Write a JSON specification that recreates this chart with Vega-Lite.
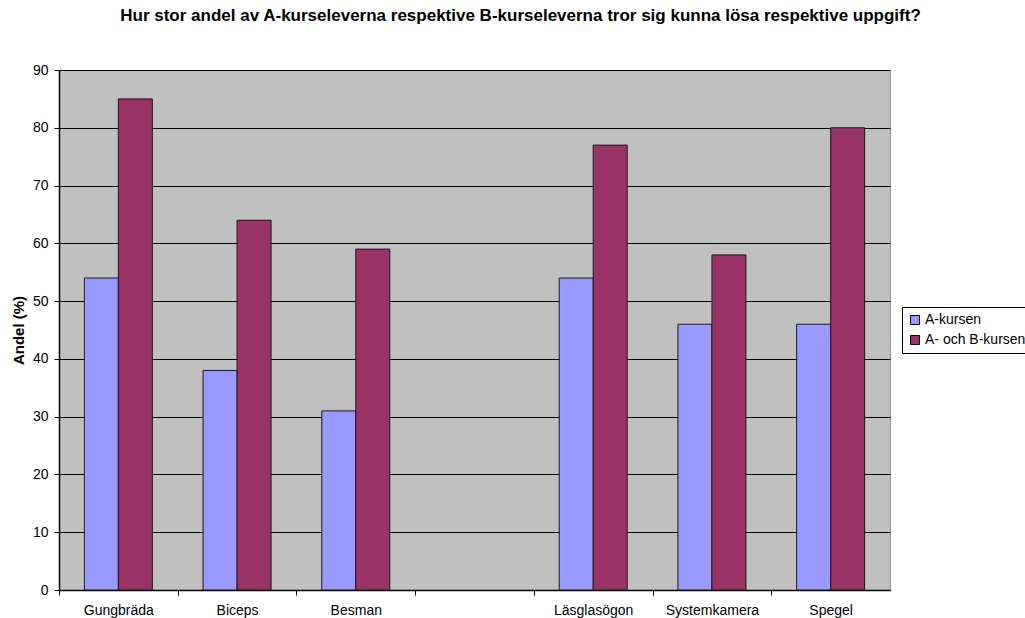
{
  "$schema": "https://vega.github.io/schema/vega-lite/v6.json",
  "width": 831,
  "height": 520,
  "autosize": {"type": "none"},
  "padding": {"left": 59, "top": 70, "right": 135, "bottom": 28},
  "background": "white",
  "config": {
    "font": "Liberation Sans",
    "view": {"fill": "#C0C0C0", "stroke": "#9a9a9a", "strokeWidth": 1}
  },
  "title": {
    "text": "Hur stor andel av A-kurseleverna respektive B-kurseleverna tror sig kunna lösa respektive uppgift?",
    "font": "Liberation Sans",
    "fontSize": 17,
    "fontWeight": "bold",
    "color": "#000000",
    "anchor": "middle",
    "dx": 46,
    "offset": 38
  },
  "data": {
    "values": [
      {"uppgift": "Gungbräda", "kurs": "A-kursen", "andel": 54},
      {"uppgift": "Gungbräda", "kurs": "A- och B-kursen", "andel": 85},
      {"uppgift": "Biceps", "kurs": "A-kursen", "andel": 38},
      {"uppgift": "Biceps", "kurs": "A- och B-kursen", "andel": 64},
      {"uppgift": "Besman", "kurs": "A-kursen", "andel": 31},
      {"uppgift": "Besman", "kurs": "A- och B-kursen", "andel": 59},
      {"uppgift": "Läsglasögon", "kurs": "A-kursen", "andel": 54},
      {"uppgift": "Läsglasögon", "kurs": "A- och B-kursen", "andel": 77},
      {"uppgift": "Systemkamera", "kurs": "A-kursen", "andel": 46},
      {"uppgift": "Systemkamera", "kurs": "A- och B-kursen", "andel": 58},
      {"uppgift": "Spegel", "kurs": "A-kursen", "andel": 46},
      {"uppgift": "Spegel", "kurs": "A- och B-kursen", "andel": 80}
    ]
  },
  "mark": {"type": "bar", "stroke": "#1a1a1a", "strokeWidth": 1},
  "encoding": {
    "x": {
      "field": "uppgift",
      "type": "nominal",
      "scale": {
        "domain": ["Gungbräda", "Biceps", "Besman", " ", "Läsglasögon", "Systemkamera", "Spegel"],
        "paddingInner": 0,
        "paddingOuter": 0
      },
      "axis": {
        "title": null,
        "labelAngle": 0,
        "labelFont": "Liberation Sans",
        "labelFontSize": 14,
        "labelColor": "#000000",
        "labelPadding": 8,
        "tickOffset": -59.35,
        "labelOffset": 59.35,
        "tickSize": 5,
        "tickColor": "#000000",
        "domainColor": "#000000",
        "domainWidth": 1.5
      }
    },
    "xOffset": {
      "field": "kurs",
      "type": "nominal",
      "sort": ["A-kursen", "A- och B-kursen"],
      "scale": {"paddingInner": 0, "paddingOuter": 0.746}
    },
    "y": {
      "field": "andel",
      "type": "quantitative",
      "scale": {"domain": [0, 90], "nice": false},
      "axis": {
        "title": "Andel (%)",
        "titleFont": "Liberation Sans",
        "titleFontSize": 15,
        "titleFontWeight": "bold",
        "titleColor": "#000000",
        "titlePadding": 6,
        "values": [0, 10, 20, 30, 40, 50, 60, 70, 80, 90],
        "labelFont": "Liberation Sans",
        "labelFontSize": 14,
        "labelColor": "#000000",
        "labelPadding": 6,
        "tickSize": 5,
        "tickColor": "#000000",
        "domainColor": "#000000",
        "domainWidth": 1.5,
        "grid": true,
        "gridColor": "#000000",
        "gridWidth": 1
      }
    },
    "color": {
      "field": "kurs",
      "type": "nominal",
      "sort": ["A-kursen", "A- och B-kursen"],
      "scale": {"domain": ["A-kursen", "A- och B-kursen"], "range": ["#9999FF", "#993366"]},
      "legend": {
        "title": null,
        "orient": "none",
        "legendX": 843,
        "legendY": 237,
        "symbolType": "square",
        "symbolSize": 80,
        "symbolStrokeColor": "#000000",
        "symbolStrokeWidth": 1,
        "labelFont": "Liberation Sans",
        "labelFontSize": 14,
        "labelColor": "#000000",
        "labelOffset": 3,
        "rowPadding": 6,
        "padding": 6,
        "strokeColor": "#000000",
        "fillColor": "#ffffff"
      }
    }
  }
}
